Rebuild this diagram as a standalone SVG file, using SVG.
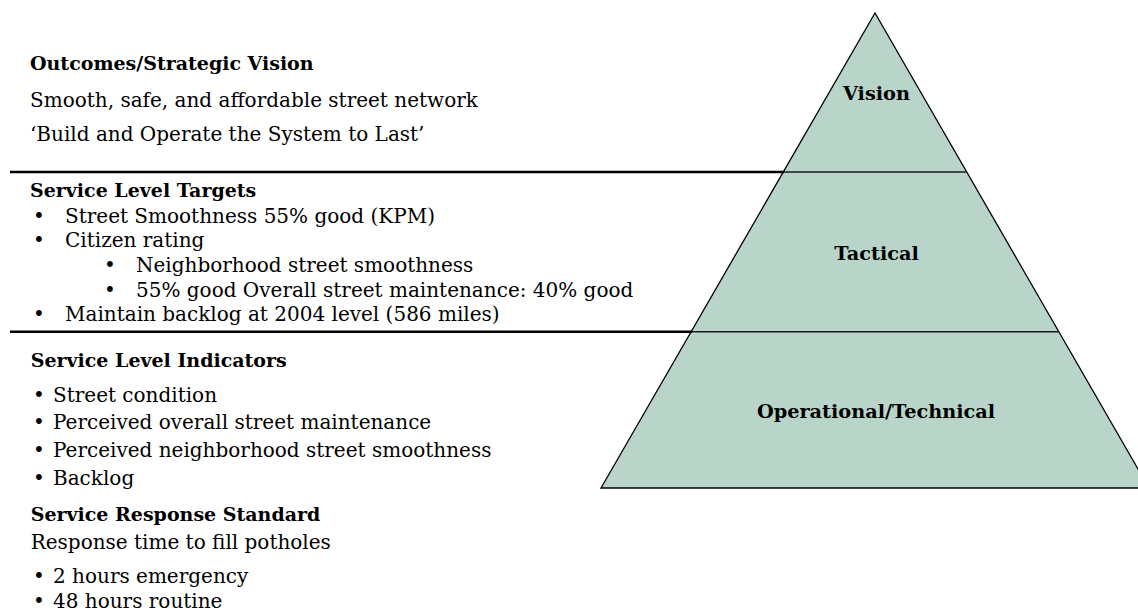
<svg xmlns="http://www.w3.org/2000/svg" width="1138" height="611" viewBox="0 0 1138 611">
<style>
  text { font-family: "DejaVu Serif", "Liberation Serif", serif; font-size: 20px; fill: #000; }
  .h { font-weight: bold; font-size: 19px; }
  .lbl { font-weight: bold; font-size: 19.3px; text-anchor: middle; }
  .rule { stroke: #000; stroke-width: 2.5; }
  .tier { stroke: #1a1a1a; stroke-width: 1.6; }
</style>
<rect width="1138" height="611" fill="#fff"/>
<g id="pyramid">
  <polygon points="875,13 601,488 1149,488" fill="#b9d5c9" stroke="#000" stroke-width="1.3"/>
  <line class="tier" x1="783" y1="172" x2="967" y2="172"/>
  <line class="tier" x1="691" y1="331.7" x2="1059" y2="331.7"/>
  <text class="lbl" x="876.5" y="100">Vision</text>
  <text class="lbl" x="876.5" y="260">Tactical</text>
  <text class="lbl" x="876" y="418">Operational/Technical</text>
</g>
<g id="connectors">
  <line class="rule" x1="10" y1="172" x2="784" y2="172"/>
  <line class="rule" x1="10" y1="331.7" x2="692" y2="331.7"/>
</g>
<g id="vision">
  <text class="h" x="30" y="70">Outcomes/Strategic Vision</text>
  <text x="30" y="107">Smooth, safe, and affordable street network</text>
  <text x="30" y="141">‘Build and Operate the System to Last’</text>
</g>
<g id="targets">
  <text class="h" x="30" y="197">Service Level Targets</text>
  <text x="33" y="222.7">•</text><text x="65" y="222.7">Street Smoothness 55% good (KPM)</text>
  <text x="33" y="246.7">•</text><text x="65" y="246.7">Citizen rating</text>
  <text x="104" y="271.7">•</text><text x="136" y="271.7">Neighborhood street smoothness</text>
  <text x="104" y="296.7">•</text><text x="136" y="296.7">55% good Overall street maintenance: 40% good</text>
  <text x="33" y="321">•</text><text x="65" y="321">Maintain backlog at 2004 level (586 miles)</text>
</g>
<g id="indicators">
  <text class="h" x="30.7" y="366.7">Service Level Indicators</text>
  <text x="33" y="401.7">•</text><text x="53" y="401.7">Street condition</text>
  <text x="33" y="429">•</text><text x="53" y="429">Perceived overall street maintenance</text>
  <text x="33" y="456.7">•</text><text x="53" y="456.7">Perceived neighborhood street smoothness</text>
  <text x="33" y="485">•</text><text x="53" y="485">Backlog</text>
</g>
<g id="response">
  <text class="h" x="30.7" y="521">Service Response Standard</text>
  <text x="30.7" y="549">Response time to fill potholes</text>
  <text x="33" y="582.7">•</text><text x="53" y="582.7">2 hours emergency</text>
  <text x="33" y="608">•</text><text x="53" y="608">48 hours routine</text>
</g>
</svg>
